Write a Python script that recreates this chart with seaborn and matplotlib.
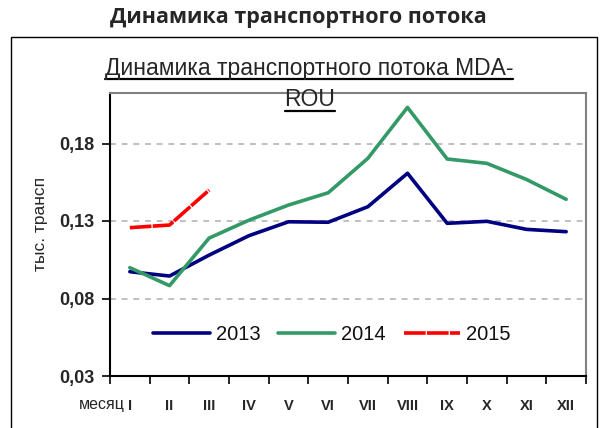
import matplotlib
matplotlib.use("Agg")
import matplotlib.pyplot as plt
from matplotlib.lines import Line2D
from matplotlib.patches import Rectangle
import seaborn as sns
import pandas as pd
import numpy as np

# ---- data ----
months = ["I", "II", "III", "IV", "V", "VI", "VII", "VIII", "IX", "X", "XI", "XII"]
v2013 = [0.0973, 0.0945, 0.108, 0.1205, 0.1295, 0.1292, 0.1392, 0.1608, 0.1285, 0.1298, 0.1246, 0.1231]
v2014 = [0.0999, 0.0883, 0.119, 0.1305, 0.1403, 0.1482, 0.1704, 0.2033, 0.1700, 0.1672, 0.1568, 0.1440]
v2015 = [0.1257, 0.1274, 0.1500]
yticks = [0.03, 0.08, 0.13, 0.18]
ytick_labels = ["0,03", "0,08", "0,13", "0,18"]

sns.set_style("white")
plt.rcParams["font.family"] = ["Liberation Sans", "DejaVu Sans"]

W, H = 602, 428
fig = plt.figure(figsize=(W / 100, H / 100), dpi=100)
fig.patch.set_facecolor("white")

# outer frame
fig.add_artist(Rectangle((10.5 / W, -0.05), (597 - 10.5) / W, (H - 37) / H + 0.05,
                         transform=fig.transFigure, fill=False, edgecolor="black", linewidth=1.0))

ax = fig.add_axes([110 / W, (H - 376) / H, (586 - 110) / W, (376 - 93) / H])

df13 = pd.DataFrame({"m": np.arange(len(v2013)), "v": v2013})
df14 = pd.DataFrame({"m": np.arange(len(v2014)), "v": v2014})
df15 = pd.DataFrame({"m": np.arange(len(v2015)), "v": v2015})

lw = 2.6
red_dash = (0, (6, 0.35))
for y in yticks[1:]:
    ax.axhline(y, color="#B4B4B4", linewidth=1.2, linestyle=(0, (3.5, 3.5)), zorder=1)

sns.lineplot(data=df13, x="m", y="v", ax=ax, color="#000080", linewidth=lw, label="2013",
             solid_capstyle="round", solid_joinstyle="round", zorder=3)
sns.lineplot(data=df14, x="m", y="v", ax=ax, color="#339966", linewidth=lw, label="2014",
             solid_capstyle="round", solid_joinstyle="round", zorder=3)
sns.lineplot(data=df15, x="m", y="v", ax=ax, color="#FF0000", linewidth=lw, label="2015",
             zorder=4)
red = ax.get_lines()[-1]
red.set_linestyle(red_dash)
red.set_dash_capstyle("butt")
red.set_dash_joinstyle("round")

ax.set_xlim(-0.5, 11.5)
ax.set_ylim(0.03, 0.03 + 283 / 1550)
ax.set_xlabel("")
ax.set_ylabel("")

ax.set_xticks(np.arange(12))
ax.set_xticklabels(months, fontsize=10.5, fontweight="bold")
ax.set_xticks(np.arange(-0.5, 12, 1), minor=True)
ax.tick_params(axis="x", which="major", length=0, pad=16.5)
ax.tick_params(axis="x", which="minor", length=6, width=1.2, direction="out", color="black", bottom=True)

ax.set_yticks(yticks)
ax.set_yticklabels(ytick_labels, fontsize=13, fontweight="bold")
ax.tick_params(axis="y", which="major", length=6, width=1.2, direction="out", color="black", left=True, pad=5)

for s in ["left", "bottom"]:
    ax.spines[s].set_color("black")
    ax.spines[s].set_linewidth(1.5)
for s in ["top", "right"]:
    ax.spines[s].set_color("#808080")
    ax.spines[s].set_linewidth(1.5)

leg = ax.legend(loc="center", bbox_to_anchor=(0.466, 0.145), ncol=3, frameon=False,
                fontsize=14.5, handlelength=2.8, handletextpad=0.3, columnspacing=0.9)
for t in leg.get_texts():
    t.set_color("#111111")
for h in leg.get_lines():
    if h.get_color() in ("#FF0000", "#ff0000"):
        h.set_linestyle(red_dash)
        h.set_dash_capstyle("butt")

# axis titles
fig.text(40 / W, 1 - 224 / H, "тыс. трансп", rotation=90, ha="center", va="center", fontsize=12.5)
fig.text(125 / W, 1 - 409 / H, "месяц", ha="right", va="baseline", fontsize=11.5)

# titles
fig.text(298 / W, 1 - 18 / H, "Динамика транспортного потока", ha="center", va="center",
         fontsize=15.5, fontweight="bold", family=["Open Sans", "DejaVu Sans"])
t1 = fig.text(309 / W, 1 - 68 / H, "Динамика транспортного потока MDA-", ha="center", va="center",
              fontsize=16.5)
t2 = fig.text(310 / W, 1 - 100 / H, "ROU", ha="center", va="center", fontsize=16.5)

fig.canvas.draw()
r = fig.canvas.get_renderer()
for t in (t1, t2):
    bb = t.get_window_extent(r)
    yline = bb.y0 + 1
    fig.add_artist(Line2D([bb.x0 / W, bb.x1 / W], [yline / H, yline / H],
                          transform=fig.transFigure, color="black", linewidth=1.6))

fig.savefig("out.png", dpi=100)
